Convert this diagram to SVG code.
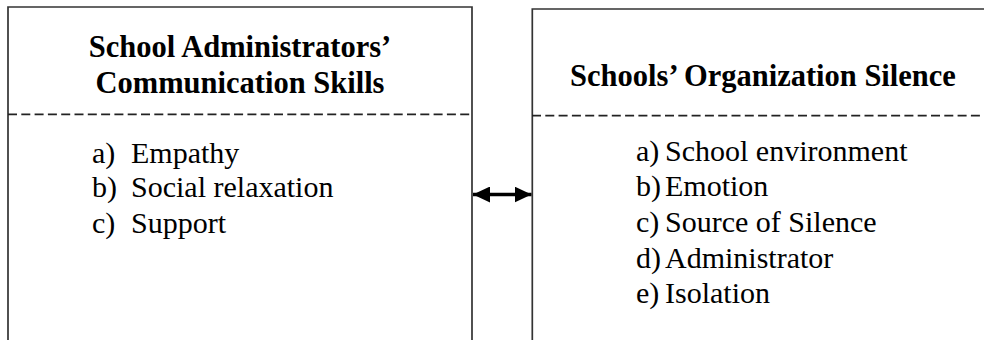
<svg xmlns="http://www.w3.org/2000/svg" width="984" height="340" viewBox="0 0 984 340">
<style>
.box{fill:none;stroke:#333;stroke-width:1.7}
.dash{stroke:#222;stroke-width:1.8;stroke-dasharray:9 4.3}
.title{font-family:"Liberation Serif",serif;font-weight:bold;font-size:30.5px;fill:#000;text-anchor:middle}
.item{font-family:"Liberation Serif",serif;font-size:30px;fill:#000}
</style>
<defs>
<marker id="ah" viewBox="0 0 17 16" refX="17" refY="8" markerWidth="17" markerHeight="16" orient="auto-start-reverse" markerUnits="userSpaceOnUse">
<path d="M0,0 L17,8 L0,16 Z" fill="#000"/>
</marker>
</defs>
<rect width="984" height="340" fill="#fff"/>
<g id="node-left">
<path class="box" d="M8,341 V7 H472 V341"/>
<line class="dash" x1="8" y1="114.3" x2="472" y2="114.3"/>
<text class="title" x="240" y="57">School Administrators’</text>
<text class="title" x="240" y="93">Communication Skills</text>
<text class="item" y="163"><tspan x="92">a)</tspan><tspan x="131">Empathy</tspan></text>
<text class="item" y="197"><tspan x="92">b)</tspan><tspan x="131">Social relaxation</tspan></text>
<text class="item" y="233"><tspan x="92">c)</tspan><tspan x="131">Support</tspan></text>
</g>
<g id="node-right">
<path class="box" d="M532.3,341 V9 H986"/>
<line class="dash" x1="532" y1="115.7" x2="984" y2="115.7"/>
<text class="title" x="763" y="86">Schools’ Organization Silence</text>
<text class="item" y="161"><tspan x="636">a)</tspan><tspan x="665">School environment</tspan></text>
<text class="item" y="196"><tspan x="636">b)</tspan><tspan x="665">Emotion</tspan></text>
<text class="item" y="232"><tspan x="636">c)</tspan><tspan x="665">Source of Silence</tspan></text>
<text class="item" y="268"><tspan x="636">d)</tspan><tspan x="665">Administrator</tspan></text>
<text class="item" y="303"><tspan x="636">e)</tspan><tspan x="665">Isolation</tspan></text>
</g>
<g id="connectors">
<line x1="473" y1="194.5" x2="531.5" y2="194.5" stroke="#000" stroke-width="3.5" marker-start="url(#ah)" marker-end="url(#ah)"/>
</g>
</svg>
